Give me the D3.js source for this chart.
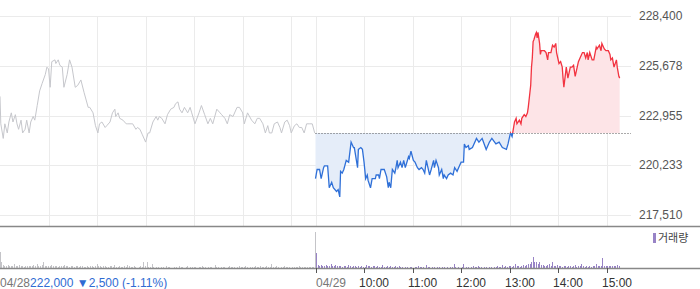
<!DOCTYPE html>
<html>
<head>
<meta charset="utf-8">
<script src="https://cdn.jsdelivr.net/npm/d3@7"></script>
<style>
body { margin: 0; background: #fff; }
svg { display: block; font-family: "Liberation Sans", Arial, sans-serif; }
</style>
</head>
<body>
<svg id="chart" width="700" height="289"></svg>
<script>
// price axis labels and session info
var priceTicks = [217510, 220233, 222955, 225678, 228400];
var hourTicks = ["10:00", "11:00", "12:00", "13:00", "14:00", "15:00"];
var dayLabels = ["04/28", "04/29"];
var prevClose = 222000;
var closeInfo = ["222,000", "\u25BC2,500", "(-1.11%)"];

// [minutes after 09:00, price]
var day1Trades = [[0,224000],[1,222500],[4,221700],[6,222500],[9,222000],[11,222600],[14,223100],[16,222600],[19,223000],[21,222500],
    [23,222200],[26,222700],[28,222000],[31,222200],[33,222700],[36,222000],[38,222600],[41,222900],[43,222700],[46,223500],
    [49,224300],[52,224700],[56,225200],[58,225600],[60,225500],[62,224500],[64,225900],[68,226000],[69,225800],[72,226000],
    [74,225700],[77,225600],[79,224500],[83,225200],[86,226000],[89,225600],[93,224500],[96,224600],[100,224900],[104,224200],
    [109,223400],[111,223400],[115,223100],[118,222400],[121,222000],[123,222500],[126,222600],[130,222300],[132,222400],[136,222600],
    [139,223100],[142,223300],[143,222900],[146,223100],[148,222800],[152,222700],[156,222500],[158,222500],[162,222500],[164,222500],
    [168,222200],[170,222300],[173,222200],[176,221900],[180,221500],[183,222000],[185,222000],[189,222600],[193,222900],[195,222700],
    [197,222900],[200,222800],[204,222500],[207,223000],[211,223300],[215,223400],[217,223600],[220,223700],[222,223300],[225,223100],
    [228,223400],[232,223100],[235,223400],[237,223100],[241,222500],[246,223100],[249,223500],[253,223000],[257,222500],[260,222800],
    [263,222500],[268,223300],[272,223100],[274,223000],[278,222800],[281,222500],[284,223000],[288,222900],[293,223400],[296,223400],
    [300,223100],[302,222500],[306,223100],[311,222700],[315,222500],[318,222800],[321,222800],[325,222500],[328,222000],[331,222400],
    [333,222000],[336,222000],[339,222500],[343,222600],[346,222300],[348,222000],[352,222600],[355,222700],[358,222400],[360,222000],
    [364,222400],[367,222500],[370,222300],[373,222300],[376,222000],[379,222500],[383,222500],[386,222500],[389,222000]];

var day2Trades = [[0,219500],[2,220000],[5,220000],[7,219500],[10,220100],[11,220200],[15,220200],[16,219600],[17,219000],[20,219300],
    [22,219000],[26,218800],[28,218900],[30,218500],[31,219900],[33,219800],[35,220000],[38,220500],[41,220400],[44,221500],
    [47,221200],[48,221200],[52,220100],[53,221100],[56,221200],[58,221100],[60,220400],[62,219500],[64,219700],[65,219400],
    [68,219000],[70,219500],[74,219500],[75,219700],[78,219700],[79,219500],[81,220000],[85,220000],[88,219600],[90,219000],
    [91,219300],[93,219000],[95,220000],[98,219800],[99,220000],[101,220500],[102,220100],[105,220400],[107,220100],[109,220500],
    [111,220100],[115,220700],[116,220600],[118,221000],[121,220500],[123,220400],[126,220100],[128,220000],[131,220100],[133,220000],
    [135,219800],[137,220500],[139,220100],[141,219700],[143,220000],[146,220500],[147,220100],[149,220500],[152,220100],[153,219700],
    [156,220000],[158,219500],[159,219700],[162,219500],[164,219700],[167,219800],[170,219700],[172,220100],[175,219900],[178,220200],
    [180,220400],[183,220400],[184,221400],[186,221200],[189,221300],[190,221100],[194,221200],[199,221700],[202,221500],[206,221700],
    [211,221100],[215,221500],[218,221700],[223,221400],[227,221500],[231,221200],[236,221100],[238,221400],[241,222000],[243,221800],
    [246,222600],[248,222800],[249,222500],[252,222700],[254,222500],[255,222800],[258,223000],[260,222900],[262,223100],[263,223400],
    [265,224200],[266,224600],[267,225600],[268,226100],[269,227000],[270,227100],[272,227400],[273,227500],[274,227200],[275,227500],
    [277,226900],[278,226300],[279,226500],[283,226500],[285,226400],[287,226000],[288,226400],[291,226400],[293,226800],[295,226700],
    [297,226900],[298,226400],[301,225800],[303,225900],[305,225600],[306,225000],[307,224500],[310,225600],[311,225300],[312,225000],
    [315,225600],[317,225600],[319,225700],[321,225100],[322,225300],[325,225900],[327,226100],[330,226400],[332,226400],[334,226100],
    [336,226400],[337,226000],[339,226400],[342,226000],[344,226000],[347,226700],[348,226600],[351,226800],[353,226500],[354,226900],
    [357,226600],[359,226500],[362,226500],[364,226300],[365,226000],[367,226100],[369,225600],[372,226000],[373,225600],[375,225100],
    [376,225000]];

// volume per 2 minutes (hundreds of shares)
var day1Vol = [16,6,3,2,2,3,2,2,2,4, 2,2,3,2,2,1,2,2,2,2, 2,3,2,4,2,2,3,6,2,2, 2,2,3,2,2,2,1,2,2,2,
    3,2,2,1,2,2,1,2,2,1, 2,2,1,1,2,1,2,2,1,2, 4,2,2,1,2,2,1,1,2,2, 1,3,1,1,2,1,1,2,1,3,
    2,1,1,2,1,0,1,2,1,6, 2,6,1,1,4,1,0,1,1,0, 1,1,0,2,1,1,0,0,1,1, 0,2,1,1,0,1,2,0,1,1,
    1,1,0,1,1,2,1,1,0,1, 1,1,0,3,1,1,0,1,1,1, 0,1,2,1,1,1,0,1,2,1, 1,1,2,1,0,1,1,1,2,1,
    1,2,1,1,1,2,1,1,4,1, 1,2,1,0,1,1,2,1,1,1, 0,1,1,1,1,2,1,1,1,1, 1,1,1,1,1,36];
var day2Vol = [15,3,2,3,2,2,3,2,2,4, 2,2,3,2,2,2,1,2,2,1, 3,2,1,2,2,1,2,1,2,1, 1,3,2,2,1,2,2,1,2,1,
    1,3,1,1,2,1,2,1,1,2, 1,2,1,1,0,1,1,0,1,1, 0,1,1,2,1,1,1,0,3,1, 1,0,1,1,0,1,1,0,1,1,
    0,1,0,1,1,4,1,0,1,0, 1,4,0,1,1,0,1,2,1,1, 2,1,1,0,1,1,0,1,1,0, 1,1,2,1,1,3,1,2,1,2,
    2,1,2,4,2,2,1,2,3,2, 3,4,4,6,11,6,6,4,6,3, 3,2,2,3,4,2,6,2,2,3, 2,2,1,2,2,1,2,2,1,2,
    3,1,2,2,4,2,1,2,1,2, 1,2,2,4,2,2,2,10,2,2, 2,2,2,2,2,2,3,2];

var svg = d3.select('#chart');
var plotRight = 631;
var sessionLen = 390;

var x = d3.scaleLinear().domain([0, sessionLen * 2]).range([0, plotRight]);
var y = d3.scaleLinear().domain([217510, 228400]).range([215, 16]);
var vy = d3.scaleLinear().domain([0, 40]).range([268, 228]);

function hourMin(s) { return (+s.split(':')[0] - 9) * 60; }

// grid
var gridMins = hourTicks.map(hourMin)
    .concat([sessionLen])
    .concat(hourTicks.map(function(h) { return sessionLen + hourMin(h); }));

svg.append('g').selectAll('line').data(priceTicks).join('line')
    .attr('x1', 0).attr('x2', plotRight)
    .attr('y1', function(d) { return Math.round(y(d)) + 0.5; })
    .attr('y2', function(d) { return Math.round(y(d)) + 0.5; })
    .style('stroke', '#ebebeb');

svg.append('g').selectAll('line').data(gridMins).join('line')
    .attr('x1', function(d) { return Math.round(x(d)) + 0.5; })
    .attr('x2', function(d) { return Math.round(x(d)) + 0.5; })
    .attr('y1', 16).attr('y2', 226)
    .style('stroke', '#ebebeb');

// clip above / below previous close
var baseY = y(prevClose);
var defs = svg.append('defs');
defs.append('clipPath').attr('id', 'above').append('rect')
    .attr('x', 0).attr('y', 0).attr('width', 700).attr('height', baseY);
defs.append('clipPath').attr('id', 'below').append('rect')
    .attr('x', 0).attr('y', baseY).attr('width', 700).attr('height', 226 - baseY);

var line1 = d3.line().x(function(d) { return x(d[0]); }).y(function(d) { return y(d[1]); });
var line2 = d3.line().x(function(d) { return x(d[0] + sessionLen); }).y(function(d) { return y(d[1]); });
var area2 = d3.area().x(function(d) { return x(d[0] + sessionLen); }).y0(baseY).y1(function(d) { return y(d[1]); });

//fills
svg.append('path').datum(day2Trades).attr('d', area2)
    .attr('clip-path', 'url(#below)').style('fill', '#e5edf9');
svg.append('path').datum(day2Trades).attr('d', area2)
    .attr('clip-path', 'url(#above)').style('fill', '#fde4e7');

// previous day line
svg.append('path').datum(day1Trades).attr('d', line1)
    .style('fill', 'none').style('stroke', '#c6c7cc').style('stroke-width', 1);

// previous close dotted
svg.append('line')
    .attr('x1', x(sessionLen)).attr('x2', plotRight)
    .attr('y1', Math.round(baseY) + 0.5).attr('y2', Math.round(baseY) + 0.5)
    .style('stroke', '#555').style('stroke-dasharray', '1,2');

svg.append('path').datum(day2Trades).attr('d', line2)
    .attr('clip-path', 'url(#below)')
    .style('fill', 'none').style('stroke', '#2f70d8').style('stroke-width', 1.3);
svg.append('path').datum(day2Trades).attr('d', line2)
    .attr('clip-path', 'url(#above)')
    .style('fill', 'none').style('stroke', '#f23340').style('stroke-width', 1.3);

// right price labels
svg.append('g').selectAll('text').data(priceTicks).join('text')
    .attr('x', 639)
    .attr('y', function(d) { return y(d) + 4; })
    .text(function(d) { return d3.format(',')(d); })
    .style('font-size', '12px')
    .style('fill', '#555');

// volume panel
svg.append('line').attr('x1', 0).attr('x2', 700).attr('y1', 226.5).attr('y2', 226.5)
    .style('stroke', '#888').style('stroke-width', 1.5);

svg.append('g').selectAll('rect').data(day1Vol).join('rect')
    .attr('x', function(d, i) { return Math.floor(x(i * 2)); })
    .attr('y', function(d) { return vy(d); })
    .attr('width', 1)
    .attr('height', function(d) { return 268 - vy(d); })
    .style('fill', '#c4c4c8')
    .attr('shape-rendering', 'crispEdges');

svg.append('g').selectAll('rect').data(day2Vol).join('rect')
    .attr('x', function(d, i) { return Math.floor(x(sessionLen + i * 2)) + 1; })
    .attr('y', function(d) { return vy(d); })
    .attr('width', 1)
    .attr('height', function(d) { return 268 - vy(d); })
    .style('fill', '#9883c6')
    .attr('shape-rendering', 'crispEdges');

svg.append('rect').attr('x', 653).attr('y', 233).attr('width', 3).attr('height', 10)
    .style('fill', '#9883c6');
svg.append('text').attr('x', 658).attr('y', 242)
    .text('거래량')
    .style('font-family', '"Noto Sans CJK KR", sans-serif')
    .style('font-size', '11px')
    .style('fill', '#444');

// x axis
svg.append('line').attr('x1', 0).attr('x2', 700).attr('y1', 268.5).attr('y2', 268.5)
    .style('stroke', '#888').style('stroke-width', 1.5);

var axisMins = [sessionLen].concat(hourTicks.map(function(h) { return sessionLen + hourMin(h); }));
svg.append('g').selectAll('line').data(axisMins).join('line')
    .attr('x1', function(d) { return Math.round(x(d)) + 0.5; })
    .attr('x2', function(d) { return Math.round(x(d)) + 0.5; })
    .attr('y1', 268).attr('y2', 273)
    .style('stroke', '#555');

svg.append('g').selectAll('text').data(hourTicks).join('text')
    .attr('x', function(d) { return Math.round(x(sessionLen + hourMin(d))) - 5; })
    .attr('y', 287)
    .text(function(d) { return d; })
    .style('font-size', '12px')
    .style('fill', '#333');

svg.append('text').attr('x', Math.round(x(sessionLen))).attr('y', 287)
    .text(dayLabels[1])
    .style('font-size', '12px').style('fill', '#777');

var info = svg.append('text').attr('x', 0).attr('y', 287).style('font-size', '12px');
info.append('tspan').text(dayLabels[0]).style('fill', '#777');
info.append('tspan').text(closeInfo[0] + ' ').style('fill', '#2f6bd3');
info.append('tspan').text(closeInfo[1] + ' ').style('fill', '#2f6bd3');
info.append('tspan').text(closeInfo[2]).style('fill', '#2f6bd3');
</script>
</body>
</html>
